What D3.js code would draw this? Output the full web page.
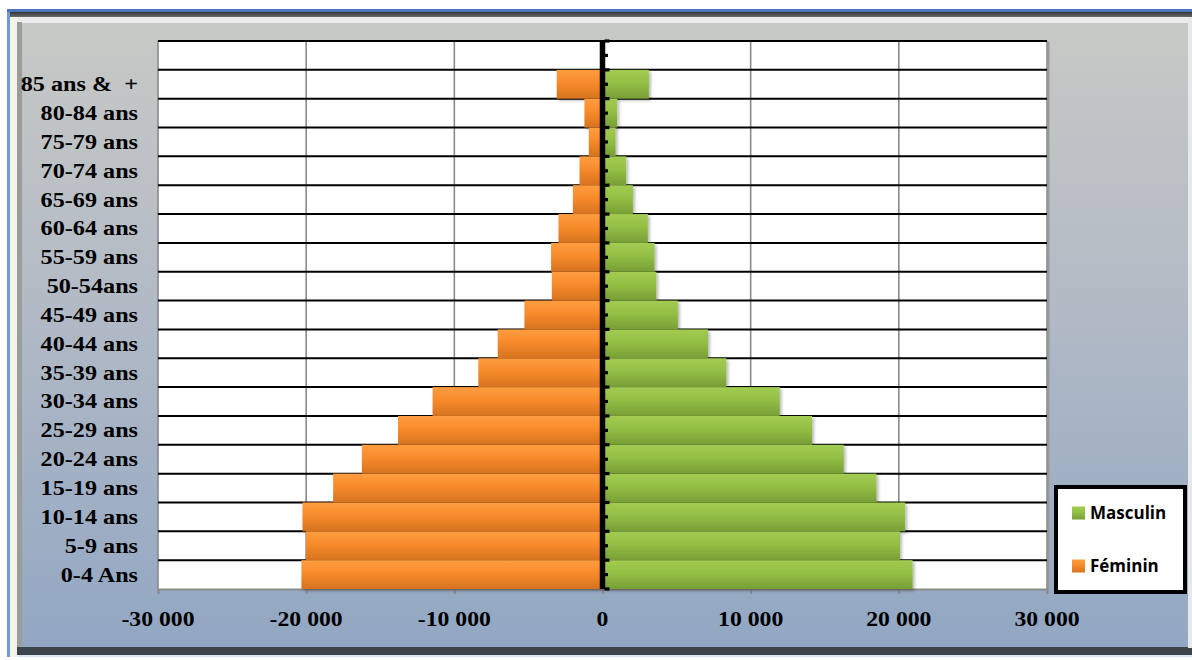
<!DOCTYPE html>
<html><head><meta charset="utf-8">
<script src="https://cdn.jsdelivr.net/npm/d3@7"></script>
<style>body{margin:0;background:#fff} svg{display:block}</style>
</head><body><svg id="c" width="1192" height="660"></svg>
<script>
// Age groups, bottom to top
const categories = ["0-4 Ans","5-9 ans","10-14 ans","15-19 ans","20-24 ans","25-29 ans","30-34 ans","35-39 ans","40-44 ans","45-49 ans","50-54ans","55-59 ans","60-64 ans","65-69 ans","70-74 ans","75-79 ans","80-84 ans","85 ans &  +"];
const masculin = [20930,20070,20430,18490,16280,14140,11960,8360,7120,5090,3630,3510,3060,2050,1600,880,990,3130];
const feminin = [-20320,-20020,-20250,-18180,-16240,-13800,-11470,-8380,-7070,-5270,-3420,-3470,-2970,-2000,-1550,-925,-1220,-3090];
const xTicks = [-30000,-20000,-10000,0,10000,20000,30000];
const seriesNames = ["Masculin","Féminin"];

const svg = d3.select("#c");
const defs = svg.append("defs");

function vGrad(id, stops){
  const g = defs.append("linearGradient").attr("id", id).attr("x1",0).attr("y1",0).attr("x2",0).attr("y2",1);
  stops.forEach(([o,c]) => g.append("stop").attr("offset", o).attr("stop-color", c));
}
vGrad("bg", [[0,"#c7c9c5"],[0.45,"#b2bac5"],[1,"#92a7c3"]]);
vGrad("gOrange", [[0,"#ff9d40"],[0.45,"#f78b2b"],[1,"#d6721f"]]);
vGrad("gGreen", [[0,"#a2cc52"],[0.45,"#93bf45"],[1,"#779e36"]]);
vGrad("gTop", [[0,"#353535"],[1,"#707070"]]);

const shadow = defs.append("filter").attr("id","sh").attr("x","-10%").attr("y","-20%").attr("width","130%").attr("height","150%");
shadow.append("feDropShadow").attr("dx",2).attr("dy",2).attr("stdDeviation",1.5).attr("flood-color","#000").attr("flood-opacity",0.28);

// Frame
svg.append("rect").attr("x",7).attr("y",9).attr("width",1185).attr("height",648).attr("fill","#d8e6f4");
svg.append("rect").attr("x",7).attr("y",9).attr("width",1185).attr("height",3).attr("fill","#4a74bb");
svg.append("rect").attr("x",7).attr("y",12).attr("width",1185).attr("height",5.5).attr("fill","url(#gTop)");
svg.append("rect").attr("x",7).attr("y",12).attr("width",3).attr("height",645).attr("fill","#6f9ad6");
svg.append("rect").attr("x",10).attr("y",17).attr("width",8).attr("height",640).attr("fill","#f4f3e8");
svg.append("rect").attr("x",17).attr("y",17).attr("width",1172).attr("height",6).attr("fill","#ececec");
svg.append("rect").attr("x",17).attr("y",22).attr("width",5).attr("height",626).attr("fill","#9b9d9c");
svg.append("rect").attr("x",17).attr("y",647).attr("width",1175).attr("height",8).attr("fill","#3d434b");
svg.append("rect").attr("x",22).attr("y",23).attr("width",1167).attr("height",624).attr("fill","url(#bg)");
svg.append("rect").attr("x",1188).attr("y",17).attr("width",4).attr("height",631).attr("fill","#e6e8ea");

const x = d3.scaleLinear().domain([-30000,30000]).range([158,1047]);
const yDomain = [...categories, " "];
const y = d3.scaleBand().domain(yDomain).range([589,41]).padding(0);
const bw = y.bandwidth();

// Plot area
svg.append("rect").attr("x",x(-30000)).attr("y",41).attr("width",x(30000)-x(-30000)).attr("height",548).attr("fill","#fff");

// Vertical gridlines
svg.append("g").selectAll("line").data(xTicks.filter(v => v !== 0)).join("line")
  .attr("x1", d => x(d)).attr("x2", d => x(d)).attr("y1",41).attr("y2",589)
  .attr("stroke","#8a8a8a").attr("stroke-width",1.6);
svg.append("line").attr("x1",x(30000)+1.5).attr("x2",x(30000)+1.5).attr("y1",42).attr("y2",589)
  .attr("stroke","#9a9a9a").attr("stroke-width",2);

// Horizontal gridlines at band boundaries
const bounds = yDomain.map(d => y(d));
svg.append("g").selectAll("line").data(bounds).join("line")
  .attr("x1",x(-30000)).attr("x2",x(30000)).attr("y1", d => d).attr("y2", d => d)
  .attr("stroke","#000").attr("stroke-width",2);

// Bottom axis
const xAxis = d3.axisBottom(x).tickValues(xTicks).tickSize(5).tickFormat("");
const gx = svg.append("g").attr("transform","translate(0,589)").call(xAxis);
gx.select(".domain").attr("stroke","#8a8a8a").attr("stroke-width",2);
gx.selectAll(".tick line").attr("stroke","#8a8a8a").attr("stroke-width",1.6);

const fmt = v => d3.format(",")(v).replace(/,/g," ").replace("−","-");
svg.append("g").selectAll("text").data(xTicks).join("text")
  .attr("transform", d => `translate(${x(d)},626) scale(1.13,1)`)
  .attr("text-anchor","middle")
  .attr("font-family","'Liberation Serif', 'Times New Roman', serif")
  .attr("font-weight","bold").attr("font-size",21).attr("fill","#000")
  .text(fmt);

// Bars
const bars = svg.append("g").attr("filter","url(#sh)");
bars.selectAll("rect.f").data(categories).join("rect").attr("class","f")
  .attr("x", (d,i) => x(feminin[i])).attr("y", d => y(d))
  .attr("width", (d,i) => x(0) - x(feminin[i])).attr("height", bw)
  .attr("fill","url(#gOrange)");
bars.selectAll("rect.m").data(categories).join("rect").attr("class","m")
  .attr("x", x(0)).attr("y", d => y(d))
  .attr("width", (d,i) => x(masculin[i]) - x(0)).attr("height", bw)
  .attr("fill","url(#gGreen)");

// Central axis with ticks
const x0 = x(0);
svg.append("line").attr("x1",x0).attr("x2",x0).attr("y1",41).attr("y2",589)
  .attr("stroke","#000").attr("stroke-width",5.5);
const tickYs = [];
bounds.forEach(b => { tickYs.push([b,true]); tickYs.push([b + bw/2,false]); });
tickYs.push([589,true]);
svg.append("g").selectAll("rect").data(tickYs).join("rect")
  .attr("x", x0 + 2).attr("y", d => d[0] - 1.6)
  .attr("width", d => d[1] ? 5 : 3.5).attr("height", 3.2).attr("fill","#000");

// Category labels
svg.append("g").selectAll("text").data(categories).join("text")
  .attr("transform", d => `translate(138,${y(d) + bw/2}) scale(1.18,1)`)
  .attr("dy","0.34em").attr("text-anchor","end")
  .attr("font-family","'Liberation Serif', 'Times New Roman', serif")
  .attr("font-weight","bold").attr("font-size",20.5).attr("fill","#000")
  .style("white-space","pre")
  .text(d => d);

// Legend
const lg = svg.append("g");
lg.append("rect").attr("x",1056).attr("y",487).attr("width",129).attr("height",105)
  .attr("fill","#fff").attr("stroke","#000").attr("stroke-width",4);
const legendItems = [
  {name: seriesNames[0], fill: "url(#gGreen)", y: 513},
  {name: seriesNames[1], fill: "url(#gOrange)", y: 566}
];
legendItems.forEach(it => {
  lg.append("rect").attr("x",1072).attr("y",it.y - 6.5).attr("width",13).attr("height",13).attr("fill",it.fill);
  lg.append("text").attr("x",1090).attr("y",it.y).attr("dy","0.36em")
    .attr("font-family","'Open Sans', 'Liberation Sans', sans-serif").attr("font-weight","bold")
    .attr("font-size",17).attr("fill","#000").text(it.name);
});
</script></body></html>
